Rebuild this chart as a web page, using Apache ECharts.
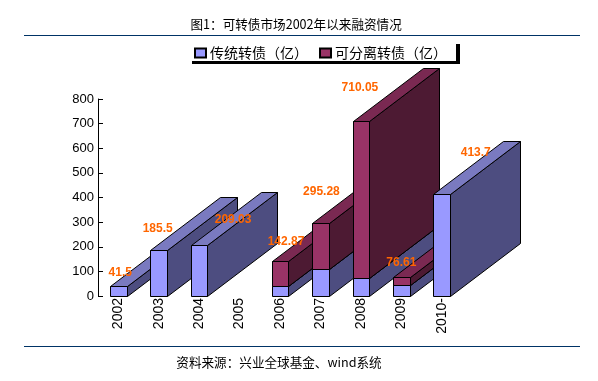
<!DOCTYPE html>
<html><head><meta charset="utf-8">
<style>html,body{margin:0;padding:0;background:#fff}#c{width:598px;height:381px}</style>
<script src="https://cdn.jsdelivr.net/npm/echarts@6/dist/echarts.min.js"></script>
</head><body><div id="c"></div>
<script>
const categories = ['2002','2003','2004','2005','2006','2007','2008','2009','2010-'];
const traditional = [41.5,185.5,209.03,0,40,110,73,45,413.7];
const separable = [0,0,0,0,102.87,185.28,637.05,31.61,0];
const valueLabels = ['41.5','185.5','209.03','','142.87','295.28','710.05','76.61','413.7'];
const labelNudgeX = [2,-1,34,0,6,1,-1,0,34];
const labelNudgeY = [-13,-22,-25,0,-19,-32,-33,-14,-41];
const yTicks = {min:0,max:800,interval:100};
const DEPTH_X = 70, DEPTH_Y = 53;
const FONT_CJK = '"Noto Sans CJK SC"';
const FONT_LATIN = '"Liberation Sans"';

function snap(v){ return Math.round(v)+0.5; }
function poly(points, fill, z2){
  return {type:'polygon', z2:z2, silent:true, shape:{points:points},
    style:{fill:fill, stroke:'#000', lineWidth:1}};
}
function box3d(colors, baseOf, order){
  return function(params, api){
    const i = api.value(0), v = api.value(1);
    if(!v) return {type:'group', children:[]};
    const base = baseOf[i];
    const c = api.coord([i, base+v]), b = api.coord([i, base]);
    const w = api.size([1,0])[0]*0.41;
    const x0 = snap(c[0]-w/2), x1 = snap(c[0]+w/2), yt = snap(c[1]), yb = snap(b[1]);
    const z = i*10+order;
    return {type:'group', children:[
      poly([[x1,yt],[x1+DEPTH_X,yt-DEPTH_Y],[x1+DEPTH_X,yb-DEPTH_Y],[x1,yb]], colors[2], z),
      poly([[x0,yt],[x0+DEPTH_X,yt-DEPTH_Y],[x1+DEPTH_X,yt-DEPTH_Y],[x1,yt]], colors[1], z+1),
      poly([[x0,yt],[x1,yt],[x1,yb],[x0,yb]], colors[0], z+2)
    ]};
  };
}
const zeros = categories.map(()=>0);
const chart = echarts.init(document.getElementById('c'), null, {renderer:'canvas'});
chart.setOption({
  animation:false,
  backgroundColor:'#fff',
  title:{text:'图1：可转债市场2002年以来融资情况', left:190.5, top:18, padding:0,
    textStyle:{fontFamily:FONT_CJK, fontSize:12.6, fontWeight:'normal', color:'#000'}},
  legend:{left:192, top:44, padding:[2,4,0,2], itemGap:11, itemWidth:11, itemHeight:9,
    selectedMode:false, icon:'rect',
    textStyle:{fontFamily:FONT_CJK, fontSize:14, color:'#000', padding:[0,0,0,-1]},
    data:['传统转债（亿）','可分离转债（亿）']},
  grid:{left:98, top:99, width:364, height:197},
  xAxis:{type:'category', data:categories, axisLine:{show:false}, axisTick:{show:false},
    axisLabel:{interval:0, rotate:90, margin:2, color:'#000', fontFamily:FONT_LATIN, fontSize:14}},
  yAxis:{type:'value', min:yTicks.min, max:yTicks.max, interval:yTicks.interval,
    splitLine:{show:false},
    axisLine:{show:true, lineStyle:{color:'#000', width:1}},
    axisTick:{show:true, inside:true, length:5, lineStyle:{color:'#000', width:1}},
    axisLabel:{margin:4, color:'#000', fontFamily:FONT_LATIN, fontSize:13}},
  series:[
    {type:'custom', name:'传统转债（亿）', silent:true, encode:{x:0,y:1},
     itemStyle:{color:'#9999FF', borderColor:'#000', borderWidth:1},
     data:traditional.map((v,i)=>[i,v]),
     renderItem:box3d(['#9999FF','#7A7AC0','#4D4D80'], zeros, 0)},
    {type:'custom', name:'可分离转债（亿）', silent:true, encode:{x:0,y:1},
     itemStyle:{color:'#993366', borderColor:'#000', borderWidth:1},
     data:separable.map((v,i)=>[i,v]),
     renderItem:box3d(['#993366','#7A2952','#4D1A33'], traditional, 3)},
    {type:'custom', silent:true, z:5, encode:{x:0,y:1},
     data:traditional.map((v,i)=>[i,v+separable[i]]),
     renderItem:function(params, api){
       const i = api.value(0), p = api.coord([i, api.value(1)]);
       return {type:'text', silent:true, z2:500, x:p[0]+labelNudgeX[i], y:p[1]+labelNudgeY[i],
         style:{text:valueLabels[i], fill:'#FF6600', font:'bold 12px '+FONT_LATIN, align:'center', verticalAlign:'middle'}};
     }}
  ],
  graphic:[
    {type:'rect', silent:true, shape:{x:24,y:35,width:556,height:1}, style:{fill:'#003366'}},
    {type:'rect', silent:true, shape:{x:24,y:346,width:556,height:1}, style:{fill:'#003366'}},
    {type:'rect', silent:true, shape:{x:192,y:61,width:268,height:3}, style:{fill:'#000'}},
    {type:'rect', silent:true, shape:{x:456,y:44,width:4,height:20}, style:{fill:'#000'}},
    {type:'text', silent:true, x:279, y:362, style:{text:'资料来源：兴业全球基金、wind系统', fill:'#000',
      font:'12.6px '+FONT_CJK, align:'center', verticalAlign:'middle'}}
  ]
});
</script></body></html>
